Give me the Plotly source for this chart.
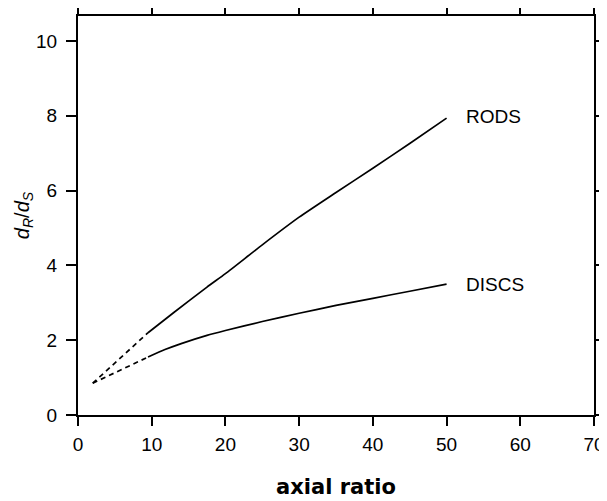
import plotly.graph_objects as go

rods_x = [9.5, 13, 17.5, 20, 25, 30, 35, 40, 45, 50]
rods_y = [2.2, 2.74, 3.42, 3.78, 4.55, 5.29, 5.95, 6.6, 7.26, 7.94]
discs_x = [9.5, 11.8, 14, 17.5, 20, 25, 30, 35, 40, 45, 50]
discs_y = [1.55, 1.75, 1.91, 2.13, 2.26, 2.5, 2.72, 2.93, 3.12, 3.31, 3.5]
rods_ext_x = [2, 9.5]
rods_ext_y = [0.85, 2.2]
discs_ext_x = [2, 9.5]
discs_ext_y = [0.85, 1.55]
labels = ["RODS", "DISCS"]
label_x = [52.4, 52.4]
label_y = [7.97, 3.48]
x_ticks = [0, 10, 20, 30, 40, 50, 60, 70]
y_ticks = [0, 2, 4, 6, 8, 10]

SANS = "Liberation Sans, Arial, sans-serif"

fig = go.Figure()
line_style = dict(color="black", width=1.7, shape="spline", smoothing=0.6)
fig.add_trace(go.Scatter(x=rods_x, y=rods_y, mode="lines", line=line_style))
fig.add_trace(go.Scatter(x=discs_x, y=discs_y, mode="lines", line=line_style))
fig.add_trace(go.Scatter(x=rods_ext_x, y=rods_ext_y, mode="lines",
                         line=dict(color="black", width=1.7, dash="5px,4px")))
fig.add_trace(go.Scatter(x=discs_ext_x, y=discs_ext_y, mode="lines",
                         line=dict(color="black", width=1.7, dash="5px,4px")))

for t, xx, yy in zip(labels, label_x, label_y):
    fig.add_annotation(x=xx, y=yy, text=t, showarrow=False, xanchor="left",
                       yanchor="middle", font=dict(size=19, color="black", family=SANS))

axis_common = dict(showgrid=False, zeroline=False, showline=True, linecolor="black",
                   linewidth=2, mirror="allticks", ticks="outside",
                   tickwidth=1.5, tickcolor="black", automargin=False,
                   tickfont=dict(size=19, color="black", family=SANS))

# page body has an 8px default margin, so the figure is offset by 8px
fig.update_layout(
    width=599, height=493,
    margin=dict(l=70, r=13, t=8, b=86),
    paper_bgcolor="white", plot_bgcolor="white",
    showlegend=False,
    xaxis=dict(range=[0, 70], tickvals=x_ticks, ticklen=9, ticklabelstandoff=2,
               **axis_common,
               title=dict(text="axial ratio", standoff=26,
                          font=dict(size=21, color="black",
                                    family="DejaVu Sans, sans-serif", weight="bold"))),
    yaxis=dict(range=[0, 10.67], tickvals=y_ticks, ticklen=10, ticklabelstandoff=5,
               **axis_common,
               title=dict(text="<i>d</i><sub><i>R</i></sub>/<i>d</i><sub><i>S</i></sub>",
                          standoff=1,
                          font=dict(size=20, color="black", family=SANS))),
)

fig.write_html("out.html")
